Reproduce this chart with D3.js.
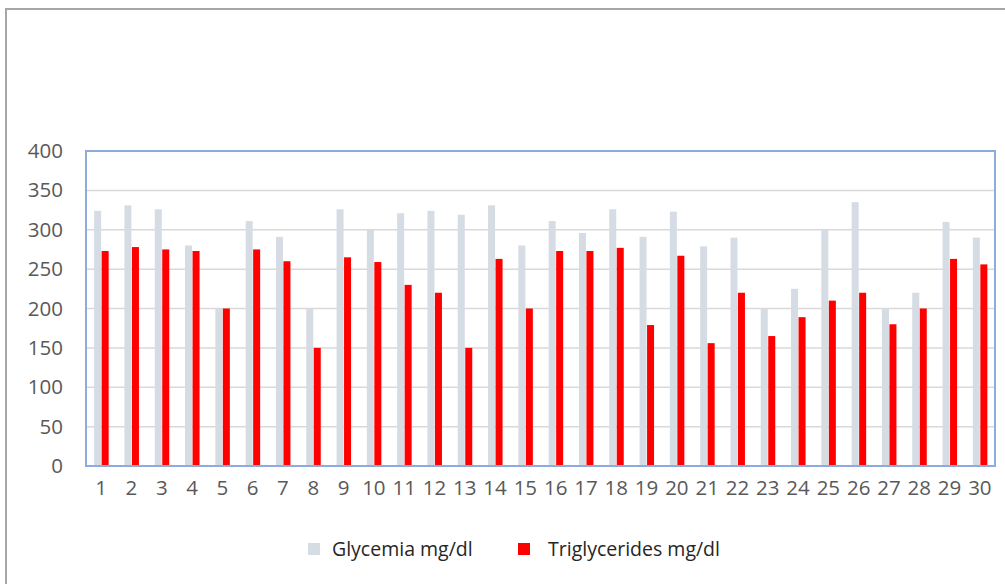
<!DOCTYPE html>
<html><head><meta charset="utf-8">
<script src="https://cdn.jsdelivr.net/npm/d3@7"></script>
<style>
html,body{margin:0;padding:0;background:#fff;}
svg{display:block;}
text{font-family:"Open Sans","Noto Sans",sans-serif;}
</style></head>
<body>
<svg id="chart" width="1005" height="584"></svg>
<script>
const categories = d3.range(1, 31).map(String);
const glycemia = [324,331,326,280,200,311,291,200,326,300,321,324,319,331,280,311,296,326,291,323,279,290,200,225,300,335,200,220,310,290];
const triglycerides = [273,278,275,273,200,275,260,150,265,259,230,220,150,263,200,273,273,277,179,267,156,220,165,189,210,220,180,200,263,256];
const yTicks = [0,50,100,150,200,250,300,350,400];
const seriesNames = ["Glycemia mg/dl","Triglycerides mg/dl"];
const colors = ["#d6dce4","#ff0000"];

const svg = d3.select("#chart");
const m = {left:86, top:151, right:995, bottom:466};

// outer chart border
svg.append("rect").attr("x",6).attr("y",9).attr("width",1010).attr("height",590)
  .attr("fill","#fff").attr("stroke","#a6a6a6").attr("stroke-width",2);

const x = d3.scaleBand().domain(categories).range([m.left, m.right]).paddingInner(0).paddingOuter(0);
const y = d3.scaleLinear().domain([0,400]).range([m.bottom, m.top]);

// gridlines
svg.append("g").selectAll("line").data(yTicks).join("line")
  .attr("x1",m.left).attr("x2",m.right)
  .attr("y1",d=>y(d)).attr("y2",d=>y(d))
  .attr("stroke","#d9d9d9").attr("stroke-width",1.5);

const bw = 7;
svg.append("g").selectAll("rect").data(glycemia).join("rect")
  .attr("x",(d,i)=>x(categories[i])+x.bandwidth()/2-bw)
  .attr("y",d=>y(d)).attr("width",bw).attr("height",d=>y(0)-y(d))
  .attr("fill",colors[0]);
svg.append("g").selectAll("rect").data(triglycerides).join("rect")
  .attr("x",(d,i)=>x(categories[i])+x.bandwidth()/2+0.5)
  .attr("y",d=>y(d)).attr("width",bw).attr("height",d=>y(0)-y(d))
  .attr("fill",colors[1]);

// plot frame
svg.append("rect").attr("x",m.left).attr("y",m.top)
  .attr("width",m.right-m.left).attr("height",m.bottom-m.top)
  .attr("fill","none").attr("stroke","#8faadc").attr("stroke-width",2);

// y axis
const yAxis = svg.append("g").attr("transform",`translate(${m.left-23},0)`)
  .call(d3.axisLeft(y).tickValues(yTicks).tickSize(0).tickPadding(0));
yAxis.select(".domain").remove();
yAxis.selectAll("text").attr("fill","#595959").style("font-size","20.5px")
  .style("font-family","'Open Sans',sans-serif");

// x axis
const xAxis = svg.append("g").attr("transform",`translate(0,${m.bottom})`)
  .call(d3.axisBottom(x).tickSize(0).tickPadding(14));
xAxis.select(".domain").remove();
xAxis.selectAll("text").attr("fill","#595959").style("font-size","20.5px")
  .style("font-family","'Open Sans',sans-serif");

// legend
const legendX = [308, 518];
const legendTextX = [332, 548];
const lg = svg.append("g");
seriesNames.forEach((n,i)=>{
  lg.append("rect").attr("x",legendX[i]).attr("y",543).attr("width",12).attr("height",12).attr("fill",colors[i]);
  lg.append("text").attr("x",legendTextX[i]).attr("y",549).attr("dy","0.35em")
    .attr("fill","#262626").style("font-size","19.5px").text(n);
});
</script>
</body></html>
